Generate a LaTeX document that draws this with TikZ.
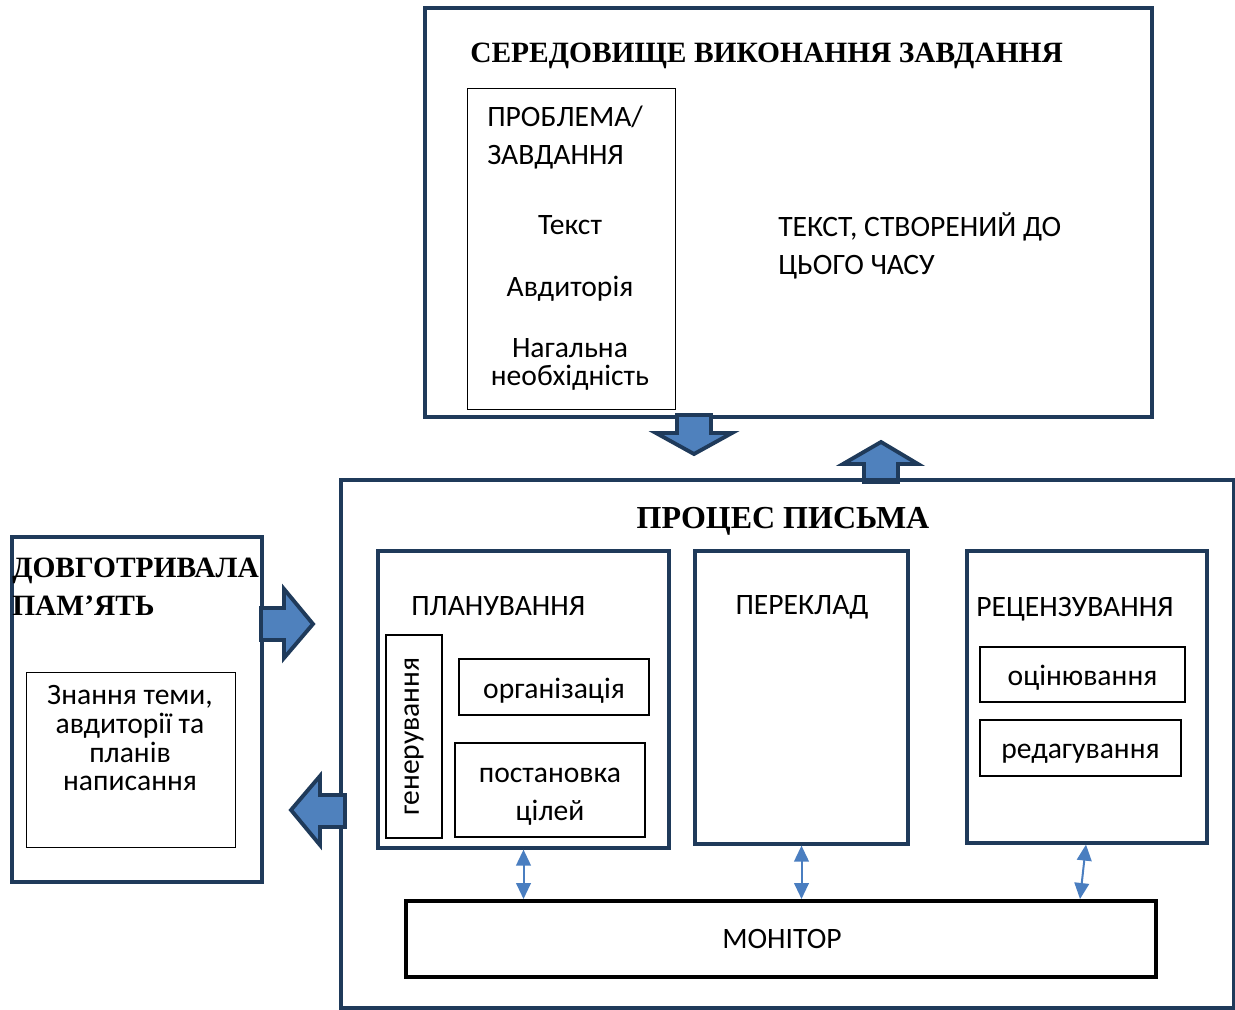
\documentclass[tikz,border=0pt]{standalone}
\usepackage{fontspec}
\setmainfont{Carlito}
\newfontfamily\headfont{Liberation Serif}
\usetikzlibrary{arrows.meta,calc}
\definecolor{navy}{HTML}{1F3A5A}
\definecolor{fillblue}{HTML}{4F81BD}
\definecolor{linkblue}{HTML}{4A7EC0}
\begin{document}
\begin{tikzpicture}[x=0.75pt,y=-0.75pt,
  outerbox/.style={draw=navy,line width=2.6pt},
  panel/.style={draw=navy,line width=2.4pt},
  thinbox/.style={draw=black,line width=0.7pt},
  innerbox/.style={draw=black,line width=1pt},
  heading/.style={font=\headfont\bfseries\fontsize{22.1}{25}\selectfont,inner sep=0pt,anchor=base west},
  body/.style={font=\fontsize{22.2}{25}\selectfont,inner sep=0pt},
  blockarrow/.style={draw=navy,line width=2.9pt,fill=fillblue,line join=miter},
  link/.style={draw=linkblue,line width=1.5pt,{Triangle[width=11pt,length=12pt]}-{Triangle[width=11pt,length=12pt]}}]
\useasboundingbox (0,0) rectangle (1235,1010);

% task environment
\draw[outerbox] (425,8) rectangle (1152,417);
\node[heading] (envtitle) at (470,62) {СЕРЕДОВИЩЕ ВИКОНАННЯ ЗАВДАННЯ};
\draw[thinbox] (467,88) rectangle (675,409);
\node[body,anchor=base west] (prob1) at (487,126) {ПРОБЛЕМА/};
\node[body,anchor=base west] (prob2) at (487,164) {ЗАВДАННЯ};
\node[body,anchor=base] (topic) at (570,234) {Текст};
\node[body,anchor=base] (aud) at (570,296) {Авдиторія};
\node[body,anchor=base] (need1) at (570,357) {Нагальна};
\node[body,anchor=base] (need2) at (570,385) {необхідність};
\node[body,anchor=base west] (text1) at (778,236) {ТЕКСТ, СТВОРЕНИЙ ДО};
\node[body,anchor=base west] (text2) at (778,274) {ЦЬОГО ЧАСУ};

% block arrows between environment and process
\draw[blockarrow] (677,415) -- (711,415) -- (711,433) -- (732,433) -- (694,454)
  -- (656,433) -- (677,433) -- cycle;
\draw[blockarrow] (864,482) -- (864,464) -- (843,464) -- (881,442) -- (918,464)
  -- (898,464) -- (898,482) -- cycle;

% writing process
\draw[outerbox] (341,480) rectangle (1234,1008);
\node[heading,anchor=base,font=\headfont\bfseries\fontsize{24}{27}\selectfont] (proctitle) at (783,528) {ПРОЦЕС ПИСЬМА};

\node[panel,minimum width=291*0.75pt,minimum height=297*0.75pt,inner sep=0pt] (plan) at (523.5,699.5) {};
\node[body,anchor=base west] (plantitle) at (411,615) {ПЛАНУВАННЯ};
\node[innerbox,minimum width=56*0.75pt,minimum height=203*0.75pt,inner sep=0pt] (gen) at (414,736.5) {};
\node[body,rotate=90] at (gen.center) {генерування};
\node[innerbox,minimum width=190*0.75pt,minimum height=56*0.75pt,inner sep=0pt] (org) at (554,687) {};
\node[body,anchor=base] at (554,698) {організація};
\node[innerbox,minimum width=190*0.75pt,minimum height=94*0.75pt,inner sep=0pt] (goal) at (550,790) {};
\node[body,anchor=base] at (550,782) {постановка};
\node[body,anchor=base] at (550,820) {цілей};

\node[panel,minimum width=213*0.75pt,minimum height=293*0.75pt,inner sep=0pt] (trans) at (801.5,697.5) {};
\node[body,anchor=base] (transtitle) at (802,614) {ПЕРЕКЛАД};

\node[panel,minimum width=240*0.75pt,minimum height=292*0.75pt,inner sep=0pt] (rev) at (1087,697) {};
\node[body,anchor=base west] (revtitle) at (976,616) {РЕЦЕНЗУВАННЯ};
\node[innerbox,minimum width=205*0.75pt,minimum height=55*0.75pt,inner sep=0pt] (eval) at (1082.5,674.5) {};
\node[body,anchor=base] at (1082.5,685) {оцінювання};
\node[innerbox,minimum width=201*0.75pt,minimum height=56*0.75pt,inner sep=0pt] (edit) at (1080.5,748) {};
\node[body,anchor=base] at (1080.5,758) {редагування};

\node[draw=black,line width=3pt,minimum width=750*0.75pt,minimum height=76*0.75pt,inner sep=0pt] (mon) at (781,939) {};
\node[body,anchor=base] at (782,948) {МОНІТОР};

\draw[link] (plan.south) -- (plan.south |- mon.north);
\draw[link] (trans.south) -- (trans.south |- mon.north);
\draw[link] ([xshift=-0.75pt]rev.south) -- ([xshift=-5.25pt]rev.south |- mon.north);

% long-term memory
\draw[outerbox] (12,537) rectangle (262,882);
\node[heading] (memtitle1) at (12,577) {ДОВГОТРИВАЛА};
\node[heading] (memtitle2) at (12,615) {ПАМ’ЯТЬ};
\draw[thinbox] (26,672) rectangle (235,847);
\node[body,anchor=base] at (130,704) {Знання теми,};
\node[body,anchor=base] at (130,733) {авдиторії та};
\node[body,anchor=base] at (130,762) {планів};
\node[body,anchor=base] at (130,790) {написання};

% block arrows between memory and process
\draw[blockarrow] (261,608) -- (284,608) -- (284,589) -- (313,624) -- (284,658)
  -- (284,640) -- (261,640) -- cycle;
\draw[blockarrow] (345,795) -- (320,795) -- (320,776) -- (291,810) -- (320,845)
  -- (320,827) -- (345,827) -- cycle;
\end{tikzpicture}
\end{document}
